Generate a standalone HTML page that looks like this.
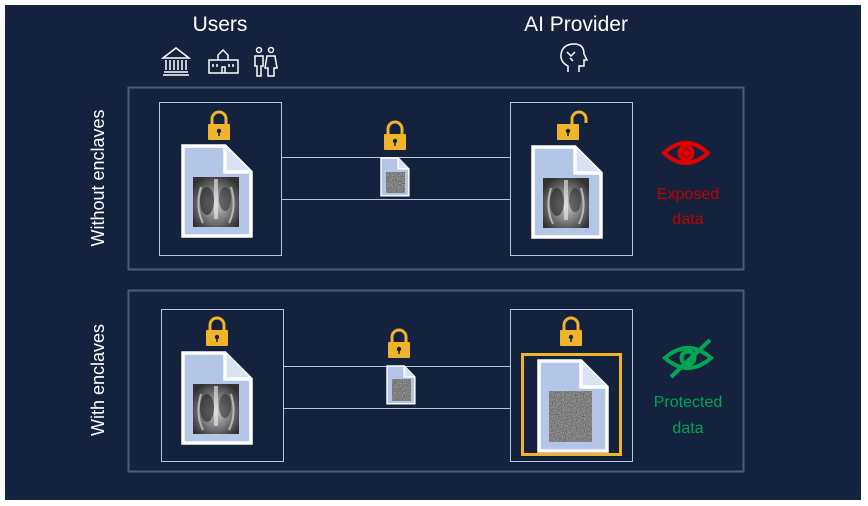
<!DOCTYPE html>
<html><head><meta charset="utf-8"><style>
html,body{margin:0;padding:0;background:#fff}
svg{display:block}
text{font-family:"Liberation Sans",sans-serif}
</style></head><body>
<svg width="868" height="506" viewBox="0 0 868 506" xmlns="http://www.w3.org/2000/svg">
<defs>
<filter id="noise" x="0" y="0" width="100%" height="100%" color-interpolation-filters="sRGB">
<feTurbulence type="fractalNoise" baseFrequency="0.9" numOctaves="2" seed="3"/>
<feColorMatrix type="matrix" values="0.3 0.3 0.3 0 0.05  0.3 0.3 0.3 0 0.05  0.3 0.3 0.3 0 0.05  0 0 0 0 1"/>
</filter>
<radialGradient id="xr" cx="50%" cy="55%" r="60%">
<stop offset="0" stop-color="#c8c8c8"/><stop offset="0.55" stop-color="#7a7a7a"/><stop offset="1" stop-color="#333"/>
</radialGradient>
<g id="lock"><path d="M-7 -2 V-7 a7 7 0 0 1 14 0 V-2" fill="none" stroke="#f0b429" stroke-width="3"/><rect x="-11" y="-2" width="22" height="16" rx="1" fill="#f0b429"/><circle cx="0" cy="5" r="2.2" fill="#15223d"/><rect x="-0.8" y="5" width="1.6" height="5" fill="#15223d"/></g>
<g id="xray"><rect width="46" height="50" fill="url(#xr)"/><path d="M8 10 q-6 20 2 36 M38 10 q6 20 -2 36" stroke="#eee" stroke-width="2" fill="none" opacity="0.6"/><rect x="21" y="2" width="4" height="40" fill="#eee" opacity="0.6"/><ellipse cx="14" cy="24" rx="7" ry="14" fill="#222" opacity="0.6"/><ellipse cx="32" cy="22" rx="6" ry="12" fill="#222" opacity="0.5"/></g>
<g id="doc"><path d="M0 0 H42 L68 26 V90 H0 Z" fill="#b4c6e7" stroke="#fff" stroke-width="3.5"/><path d="M42 0 V26 H68" fill="#d9e2f3" stroke="#fff" stroke-width="3.5"/></g>
</defs>
<rect x="0" y="0" width="868" height="506" fill="#fff"/>
<rect x="5" y="5" width="856" height="495" fill="#15223d"/>
<text x="220" y="31" fill="#fff" font-size="21" text-anchor="middle">Users</text>
<text x="576" y="31" fill="#fff" font-size="21" text-anchor="middle">AI Provider</text>
<g stroke="#fff" fill="none" stroke-width="1.5">
<path d="M163 58 L176 48 L189 58 Z M164 72 H188 M163 75 H189 M166 60 V70 M170 60 V70 M174 60 V70 M178 60 V70 M182 60 V70 M186 60 V70"/>
<path d="M209 60 H238 V73 H209 Z M218 60 V55 L223 50 L228 55 V60 M213 64 v3 M217 64 v3 M229 64 v3 M233 64 v3 M222 73 v-6 h3 v6"/>
<circle cx="259" cy="50" r="2.5"/><circle cx="271" cy="50" r="2.5"/>
<path d="M255 56 h8 v10 h-2 v10 h-4 v-10 h-2 Z M267 56 h8 l2 12 h-3 v8 h-6 v-8 h-3 Z"/>
<path d="M568 72 v-6 q-8 -4 -7 -12 q2 -10 13 -10 q10 0 10 10 l3 6 h-3 v6 h-5 v6 M567 52 l4 4 l4 -4 M570 58 l3 3"/>
</g>
<text transform="translate(104,178) rotate(-90)" fill="#fff" font-size="18" text-anchor="middle">Without enclaves</text>
<text transform="translate(104,380) rotate(-90)" fill="#fff" font-size="18" text-anchor="middle">With enclaves</text>
<rect x="128.5" y="87.5" width="615" height="182" fill="none" stroke="#4d5c75" stroke-width="2"/>
<rect x="128.5" y="290.5" width="615" height="181" fill="none" stroke="#4d5c75" stroke-width="2"/>
<g fill="none" stroke="#b4c6e7" stroke-width="1">
<rect x="159.5" y="102.5" width="122" height="153"/>
<rect x="510.5" y="102.5" width="122" height="153"/>
<rect x="161.5" y="309.5" width="122" height="152"/>
<rect x="510.5" y="309.5" width="122" height="152"/>
<path d="M281 157.5 H510 M281 199.5 H510 M283 366.5 H510 M283 408.5 H510"/>
</g>
<use href="#lock" x="219" y="126"/>
<use href="#lock" x="395" y="136"/>
<g transform="translate(568,126)"><path d="M4 -2 V-7 a7 7 0 0 1 14 0 V-3" fill="none" stroke="#f0b429" stroke-width="3"/><rect x="-11" y="-2" width="22" height="16" rx="1" fill="#f0b429"/><circle cx="0" cy="5" r="2.2" fill="#15223d"/><rect x="-0.8" y="5" width="1.6" height="5" fill="#15223d"/></g>
<use href="#doc" x="183" y="146"/><use href="#xray" x="193" y="177"/>
<use href="#doc" x="533" y="147"/><use href="#xray" x="543" y="178"/>
<g transform="translate(381,158) scale(0.41,0.42)"><use href="#doc"/></g>
<rect x="386" y="172" width="19" height="21" filter="url(#noise)"/>
<g transform="translate(686,153)" fill="none" stroke="#e00000" stroke-width="4">
<path d="M-22 0 Q0 -20 22 0 Q0 20 -22 0 Z"/><circle r="6.5"/><circle r="2" fill="#e00000"/></g>
<text x="688" y="199" fill="#c00000" font-size="16" text-anchor="middle">Exposed</text>
<text x="688" y="224" fill="#c00000" font-size="16" text-anchor="middle">data</text>
<use href="#lock" x="217" y="332"/>
<use href="#lock" x="399" y="344"/>
<use href="#lock" x="571" y="332"/>
<use href="#doc" x="183" y="353"/><use href="#xray" x="193" y="384"/>
<g transform="translate(387,366) scale(0.41,0.42)"><use href="#doc"/></g>
<rect x="392" y="379" width="19" height="22" filter="url(#noise)"/>
<rect x="522.5" y="354.5" width="98" height="100" fill="none" stroke="#f0b429" stroke-width="3"/>
<use href="#doc" x="539" y="361"/>
<rect x="549" y="391" width="43" height="51" filter="url(#noise)"/>
<g transform="translate(688,358)" fill="none" stroke="#00a651" stroke-width="4">
<path d="M-23 0 Q0 -20 23 0 Q0 20 -23 0 Z"/><circle r="6.5"/><path d="M-17 19 L22 -18"/></g>
<text x="688" y="407" fill="#00a651" font-size="16" text-anchor="middle">Protected</text>
<text x="688" y="433" fill="#00a651" font-size="16" text-anchor="middle">data</text>
</svg>
</body></html>
